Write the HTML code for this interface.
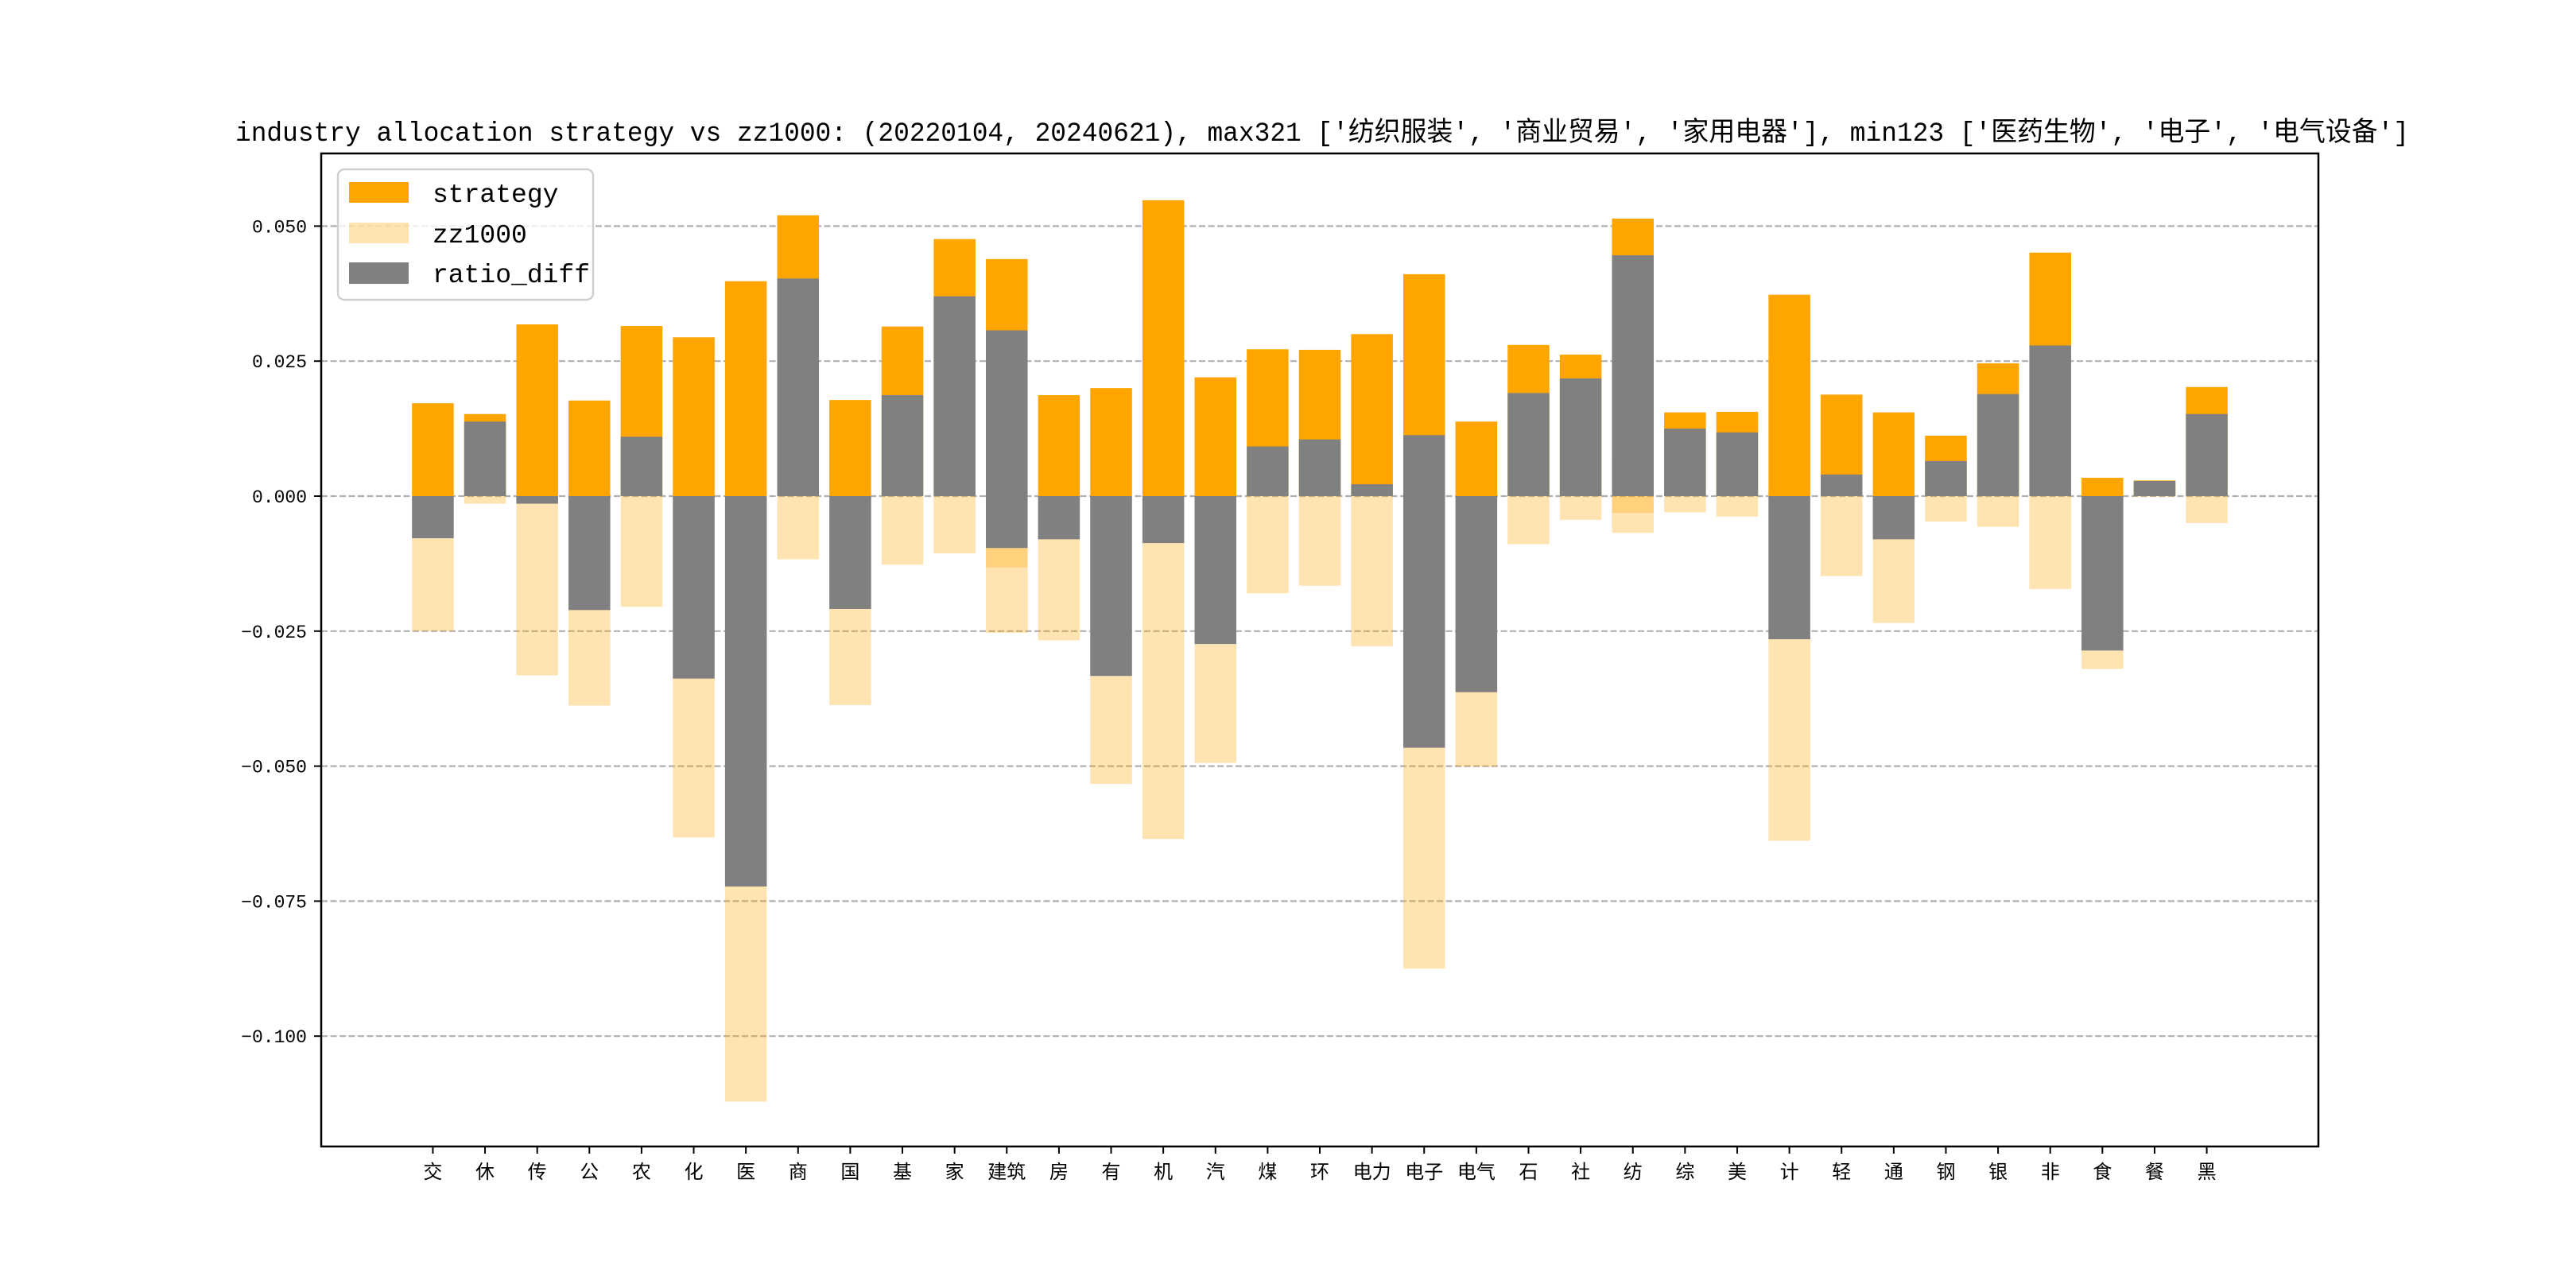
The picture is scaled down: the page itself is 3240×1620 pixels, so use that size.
<!DOCTYPE html>
<html><head><meta charset="utf-8">
<style>
html,body{margin:0;padding:0;background:#fff;}
svg{display:block;}
text{font-family:"Liberation Mono","Noto Sans CJK SC",monospace;}
</style></head>
<body>
<svg id="chart" width="3240" height="1620" viewBox="0 0 3240 1620" xmlns="http://www.w3.org/2000/svg">
<rect x="0" y="0" width="3240" height="1620" fill="#fff"/>
<text x="1663" y="177" text-anchor="middle" font-size="34" textLength="2734" lengthAdjust="spacingAndGlyphs">industry allocation strategy vs zz1000: (20220104, 20240621), max321 ['纺织服装', '商业贸易', '家用电器'], min123 ['医药生物', '电子', '电气设备']</text>
<g id="grid"></g>
<g id="bars"></g>
<g id="axes"></g>
<g id="legend">
<rect x="425" y="213" width="321" height="164" rx="8" fill="#fff" fill-opacity="0.8" stroke="#d0d0d0" stroke-width="2.5"/>
<rect x="439" y="229" width="75" height="26" fill="#FFA500"/>
<text x="544" y="254" font-size="33">strategy</text>
<rect x="439" y="280" width="75" height="26" fill="#FFA500" fill-opacity="0.3"/>
<text x="544" y="305" font-size="33">zz1000</text>
<rect x="439" y="330" width="75" height="27" fill="#808080"/>
<text x="544" y="355" font-size="33">ratio_diff</text>
</g>
</svg>
<script>
const categories = ['交','休','传','公','农','化','医','商','国','基','家','建筑','建筑','房','有','机','汽','煤','环','电力','电子','电子','电气','石','社','纺','纺','综','美','计','轻','通','钢','银','非','食','餐','黑'];
const strategyValues = [0.0172,0.0152,0.0318,0.0177,0.0315,0.0294,0.0398,0.0520,0.0178,0.0314,0.0476,0.0439,0.0157,0.0187,0.0200,0.0548,0.0220,0.0272,0.0271,0.0300,0.0411,0.0409,0.0138,0.0280,0.0262,0.0514,0.0100,0.0155,0.0156,0.0373,0.0188,0.0155,0.0112,0.0246,0.0451,0.0034,0.0029,0.0202];
const zz1000Values = [0.0250,0.0014,0.0332,0.0388,0.0205,0.0632,0.1121,0.0117,0.0387,0.0127,0.0106,0.0132,0.0253,0.0267,0.0533,0.0635,0.0494,0.0180,0.0166,0.0278,0.0298,0.0875,0.0501,0.0089,0.0044,0.0068,0.0031,0.0030,0.0038,0.0638,0.0148,0.0235,0.0047,0.0057,0.0172,0.0320,0.0001,0.0050];
const yTickValues = [0.050,0.025,0.000,-0.025,-0.050,-0.075,-0.100];
const yTickLabels = ['0.050','0.025','0.000','−0.025','−0.050','−0.075','−0.100'];

const NS='http://www.w3.org/2000/svg';
const axL=404, axR=2916, axT=193, axB=1442;
const uniq=[];categories.forEach(c=>{if(!uniq.includes(c))uniq.push(c);});
const n=uniq.length;
const xMin=-0.4-0.05*(n-1+0.8), xMax=(n-1)+0.4+0.05*(n-1+0.8);
function xPos(i){return axL+(i-xMin)/(xMax-xMin)*(axR-axL);}
const y0px=624, pxPerUnit=6792;
function yPos(v){return y0px-v*pxPerUnit;}
const bw=0.8*(axR-axL)/(xMax-xMin);
function mk(tag,attrs,parent){const e=document.createElementNS(NS,tag);for(const k in attrs)e.setAttribute(k,attrs[k]);parent.appendChild(e);return e;}
const grid=document.getElementById('grid'), bars=document.getElementById('bars'), axes=document.getElementById('axes');
yTickValues.forEach((v,i)=>{
  const l=mk('line',{x1:axL,x2:axR,y1:yPos(v),y2:yPos(v),stroke:'#b0b0b0','stroke-width':2.2,'stroke-dasharray':'8,3.5'},grid);
  
  
  const t=mk('line',{x1:axL-9,x2:axL,y1:yPos(v),y2:yPos(v),stroke:'#000','stroke-width':2},axes);
  
  
  const tx=mk('text',{x:axL-18,y:yPos(v)+8,'text-anchor':'end','font-size':23},axes);
  tx.textContent=yTickLabels[i];
  
  
});
function bar(i,v0,v1,fill,op,name){
  const x=xPos(uniq.indexOf(categories[i]))-bw/2;
  const a=yPos(Math.max(v0,v1)), b=yPos(Math.min(v0,v1));
  const r=mk('rect',{x:x,y:a,width:bw,height:Math.max(0,b-a),fill:fill,'fill-opacity':op},bars);
  
  
}
categories.forEach((c,i)=>bar(i,0,strategyValues[i],'#FFA500',1,'bar-strategy'));
categories.forEach((c,i)=>bar(i,0,-zz1000Values[i],'#FFA500',0.3,'bar-zz1000'));
categories.forEach((c,i)=>bar(i,0,strategyValues[i]-zz1000Values[i],'#808080',1,'bar-ratio-diff'));
uniq.forEach((c,i)=>{
  const t=mk('line',{x1:xPos(i),x2:xPos(i),y1:axB,y2:axB+9,stroke:'#000','stroke-width':2},axes);
  
  
  const tx=mk('text',{x:xPos(i),y:axB+40,'text-anchor':'middle','font-size':24},axes);
  tx.textContent=c;
  
  
});
const fr=mk('rect',{x:axL,y:axT,width:axR-axL,height:axB-axT,fill:'none',stroke:'#000','stroke-width':2.5},axes);


</script>
</body></html>
